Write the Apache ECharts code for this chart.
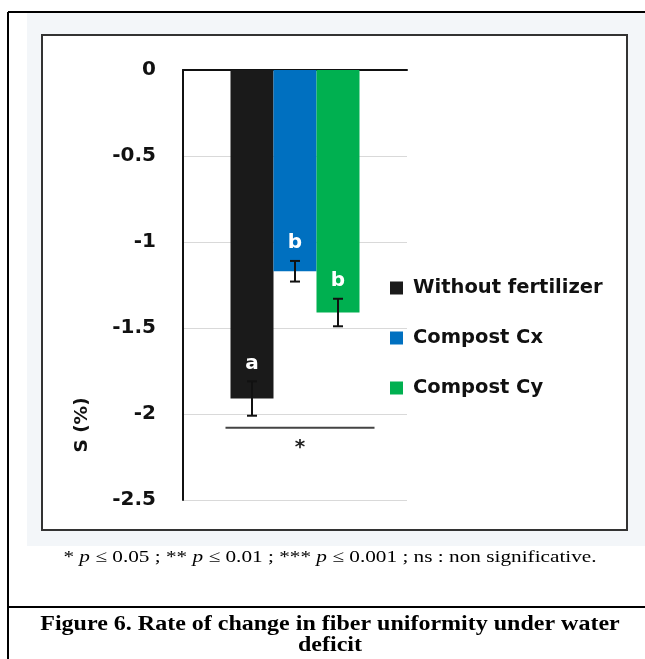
<!DOCTYPE html>
<html>
<head>
<meta charset="utf-8">
<script src="https://cdn.jsdelivr.net/npm/echarts@6/dist/echarts.min.js"></script>
<style>
html,body{margin:0;padding:0;background:#fff;}
#c{width:645px;height:659px;}
</style>
</head>
<body>
<div id="c"></div>
<script>
const categories = ['Treatment'];
const seriesNames = ['Without fertilizer', 'Compost Cx', 'Compost Cy'];
const meanValues = [-1.91, -1.17, -1.41];
const errorValues = [0.10, 0.06, 0.08];
const groupLetters = ['a', 'b', 'b'];
const yTicks = [0, -0.5, -1, -1.5, -2, -2.5];
const colors = ['#1a1a1a', '#0070c0', '#00b050'];
const significance = '*';
const sigLevel = -2.08;
const yAxisTitle = 'S (%)';

const FONT = '"DejaVu Sans", sans-serif';
const chart = echarts.init(document.getElementById('c'), null, {renderer: 'canvas'});

const barWidth = 43;
const barSeries = seriesNames.map((name, i) => ({
  name: name,
  type: 'bar',
  data: [meanValues[i]],
  barWidth: barWidth,
  barGap: '0%',
  itemStyle: {color: colors[i]},
  z: 2
}));

const errSeries = {
  type: 'custom',
  name: 'err',
  z: 5,
  data: meanValues.map((v, i) => [i, v, errorValues[i]]),
  renderItem: function (params, api) {
    const idx = api.value(0);
    const mean = api.value(1);
    const err = api.value(2);
    const base = api.coord([0, 0]);
    const cx = base[0] + (idx - 1) * barWidth;
    const top = api.coord([0, mean + err])[1];
    const bot = api.coord([0, mean - err])[1];
    const cap = 5;
    const st = {stroke: '#111', lineWidth: 2};
    return {
      type: 'group',
      children: [
        {type: 'line', shape: {x1: cx, y1: top, x2: cx, y2: bot}, style: st},
        {type: 'line', shape: {x1: cx - cap, y1: top, x2: cx + cap, y2: top}, style: st},
        {type: 'line', shape: {x1: cx - cap, y1: bot, x2: cx + cap, y2: bot}, style: st},
        {type: 'text', style: {text: groupLetters[idx], x: cx, y: top - 8, align: 'center', verticalAlign: 'bottom',
          fill: '#ffffff', font: 'bold 20px ' + FONT}}
      ]
    };
  }
};

const option = {
  animation: false,
  backgroundColor: 'transparent',
  grid: {left: 183, right: 238, top: 70, bottom: 159},
  legend: {
    data: seriesNames,
    orient: 'vertical',
    left: 385,
    top: 271,
    itemWidth: 13,
    itemHeight: 13,
    itemGap: 26,
    icon: 'rect',
    textStyle: {fontFamily: FONT, fontWeight: 'bold', fontSize: 19.5, lineHeight: 24, color: '#111', padding: [0, 0, 0, 5]}
  },
  xAxis: {
    type: 'category',
    data: categories,
    axisLine: {show: true, onZero: true, lineStyle: {color: '#111', width: 2}},
    axisTick: {show: false},
    axisLabel: {show: false},
    splitLine: {show: false}
  },
  yAxis: {
    type: 'value',
    min: -2.5,
    max: 0,
    interval: 0.5,
    axisLine: {show: true, lineStyle: {color: '#111', width: 2}},
    axisTick: {show: false},
    axisLabel: {
      fontFamily: FONT, fontWeight: 'bold', fontSize: 20, color: '#111', margin: 27, padding: [4, 0, 0, 0],
      formatter: v => { const t = yTicks.find(x => Math.abs(x - v) < 1e-9); return t === undefined ? '' : String(t); }
    },
    splitLine: {show: true, lineStyle: {color: '#d9d9d9', width: 1}}
  },
  series: [...barSeries, errSeries]
};
chart.setOption(option);

// significance annotation positioned through the axes
const pL = chart.convertToPixel({gridIndex: 0}, [0, sigLevel]);
const leftX = pL[0] - 1.5 * barWidth - 5;
const rightX = pL[0] + 1.5 * barWidth + 15;

chart.setOption({
  graphic: [
    {type: 'rect', z: -20, silent: true, shape: {x: 27, y: 13, width: 618, height: 533}, style: {fill: '#f3f6f9'}},
    {type: 'rect', z: -19, silent: true, shape: {x: 42, y: 35, width: 585, height: 495}, style: {fill: '#ffffff', stroke: '#333', lineWidth: 2}},
    {type: 'line', z: 10, shape: {x1: 8, y1: 12, x2: 8, y2: 659}, style: {stroke: '#000', lineWidth: 2}},
    {type: 'line', z: 10, shape: {x1: 8, y1: 12, x2: 645, y2: 12}, style: {stroke: '#000', lineWidth: 2}},
    {type: 'line', z: 10, shape: {x1: 8, y1: 607, x2: 645, y2: 607}, style: {stroke: '#000', lineWidth: 2}},
    {type: 'text', z: 10, x: 82, y: 425, rotation: Math.PI / 2, style: {text: yAxisTitle, x: 0, y: 0, align: 'center', verticalAlign: 'middle',
      font: 'bold 18.5px ' + FONT, fill: '#111'}},
    {type: 'line', z: 10, shape: {x1: leftX, y1: pL[1], x2: rightX, y2: pL[1]}, style: {stroke: '#444', lineWidth: 2}},
    {type: 'text', z: 10, style: {text: significance, x: (leftX + rightX) / 2, y: pL[1] + 20, align: 'center', verticalAlign: 'middle',
      font: 'bold 20px ' + FONT, fill: '#222'}},
    {type: 'text', z: 10, x: 330, y: 558, scaleX: 1.25, style: {
      text: '* {i|p} ≤ 0.05 ; ** {i|p} ≤ 0.01 ; *** {i|p} ≤ 0.001 ; ns : non significative.',
      x: 0, y: 0, align: 'center', verticalAlign: 'middle',
      font: '17px "Liberation Serif", "Times New Roman", serif', fill: '#000',
      rich: {i: {fontStyle: 'italic', fontFamily: '"Liberation Serif", serif', fontSize: 17}}
    }},
    {type: 'text', z: 10, x: 330, y: 625, scaleX: 1.2, style: {
      text: 'Figure 6. Rate of change in fiber uniformity under water',
      x: 0, y: 0, align: 'center', verticalAlign: 'middle',
      font: 'bold 20px "Liberation Serif", "Times New Roman", serif', fill: '#000'
    }},
    {type: 'text', z: 10, x: 330, y: 646, scaleX: 1.2, style: {
      text: 'deficit',
      x: 0, y: 0, align: 'center', verticalAlign: 'middle',
      font: 'bold 20px "Liberation Serif", "Times New Roman", serif', fill: '#000'
    }}
  ]
});
</script>
</body>
</html>
